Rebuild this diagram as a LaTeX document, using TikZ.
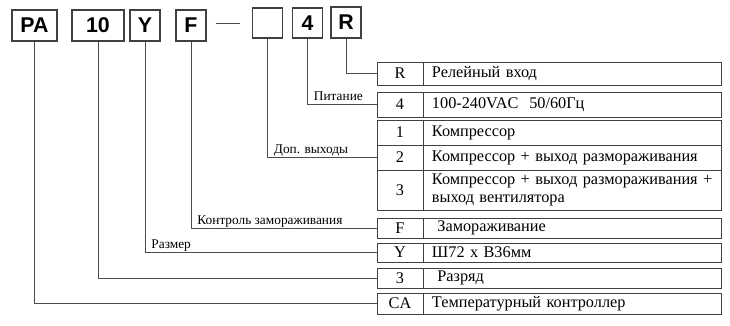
\documentclass[tikz,border=0pt]{standalone}
\usepackage{fontspec}
\setmainfont{Liberation Serif}
\newfontfamily\codefont{Liberation Sans}
\usetikzlibrary{positioning}

\begin{document}
\begin{tikzpicture}[x=0.75pt,y=-0.75pt,
  codebox/.style={draw=black!75,line width=0.9pt,minimum width=22.5pt,minimum height=23.25pt,
    inner sep=0pt,font=\codefont\bfseries\fontsize{16}{16}\selectfont},
  keycell/.style={draw=black!75,line width=0.7pt,minimum width=34.5pt,inner sep=0pt,
    font=\fontsize{12.2}{13.5}\selectfont},
  desccell/.style={draw=black!75,line width=0.7pt,minimum width=223.5pt,text width=215.5pt,
    inner xsep=4pt,inner ysep=0pt,align=left,font=\fontsize{12.2}{13.5}\selectfont},
  wire/.style={draw=black!70,line width=0.7pt},
  lbl/.style={anchor=base west,inner sep=0pt,xshift=4.5pt,yshift=3pt,
    font=\fontsize{10}{11}\selectfont}]
  \useasboundingbox (0,0) rectangle (730,325);

  % code boxes
  \node[codebox,minimum width=33.75pt] (bPA) at (34.5,25.5) {PA};
  \node[codebox,minimum width=39pt] (b10) at (98,25.5) {10};
  \node[codebox] (bY) at (145,25.5) {Y};
  \node[codebox] (bF) at (191,25.5) {F};
  \node[codebox,minimum height=22.5pt] (bE) at (267.5,23) {};
  \node[codebox,minimum height=22.5pt] (b4) at (307.5,23) {4};
  \node[codebox,minimum height=23.25pt] (bR) at (346,22.5) {R};
  \draw[wire,shorten <=7pt,shorten >=9pt] (bF.east |- bE.west) -- (bE.west);

  % table
  \node[keycell,minimum height=17.25pt] (kR) at (400,73.5) {R};
  \node[desccell,minimum height=17.25pt,right=0pt of kR] (dR) {\,Релейный вход};
  \node[keycell,minimum height=18.75pt] (k4) at (400,104.5) {4};
  \node[desccell,minimum height=18.75pt,right=0pt of k4] (d4) {\,100-240VAC\ \ 50/60Гц};
  \node[keycell,minimum height=18.75pt] (k1) at (400,132.5) {1};
  \node[desccell,minimum height=18.75pt,right=0pt of k1] (d1) {\,Компрессор};
  \node[keycell,minimum height=18.75pt] (k2) at (400,157.5) {2};
  \node[desccell,minimum height=18.75pt,right=0pt of k2] (d2) {\,Компрессор + выход размораживания};
  \node[keycell,minimum height=30pt] (k3) at (400,190) {3};
  \node[desccell,minimum height=30pt,right=0pt of k3] (d3) {\,Компрессор + выход размораживания +\\\,выход вентилятора};
  \node[keycell,minimum height=15pt] (kF) at (400,228) {F};
  \node[desccell,minimum height=15pt,right=0pt of kF] (dF) {\ \,Замораживание};
  \node[keycell,minimum height=14.25pt] (kY) at (400,252.5) {Y};
  \node[desccell,minimum height=14.25pt,right=0pt of kY] (dY) {\,Ш72 x В36мм};
  \node[keycell,minimum height=15pt] (kD) at (400,278) {3};
  \node[desccell,minimum height=15pt,right=0pt of kD] (dD) {\ \,Разряд};
  \node[keycell,minimum height=15.75pt] (kCA) at (400,303.5) {CA};
  \node[desccell,minimum height=15.75pt,right=0pt of kCA] (dCA) {\,Температурный контроллер};

  % connectors
  \draw[wire] (bR.south) |- (kR.west);
  \draw[wire] (b4.south) |- node[lbl] {Питание} (k4.west);
  \draw[wire] (bE.south) |- node[lbl] {Доп. выходы} (k2.west);
  \draw[wire] (bF.south) |- node[lbl] {Контроль замораживания} (kF.west);
  \draw[wire] (bY.south) |- node[lbl] {Размер} (kY.west);
  \draw[wire] (b10.south) |- (kD.west);
  \draw[wire] (bPA.south) |- (kCA.west);
\end{tikzpicture}
\end{document}
